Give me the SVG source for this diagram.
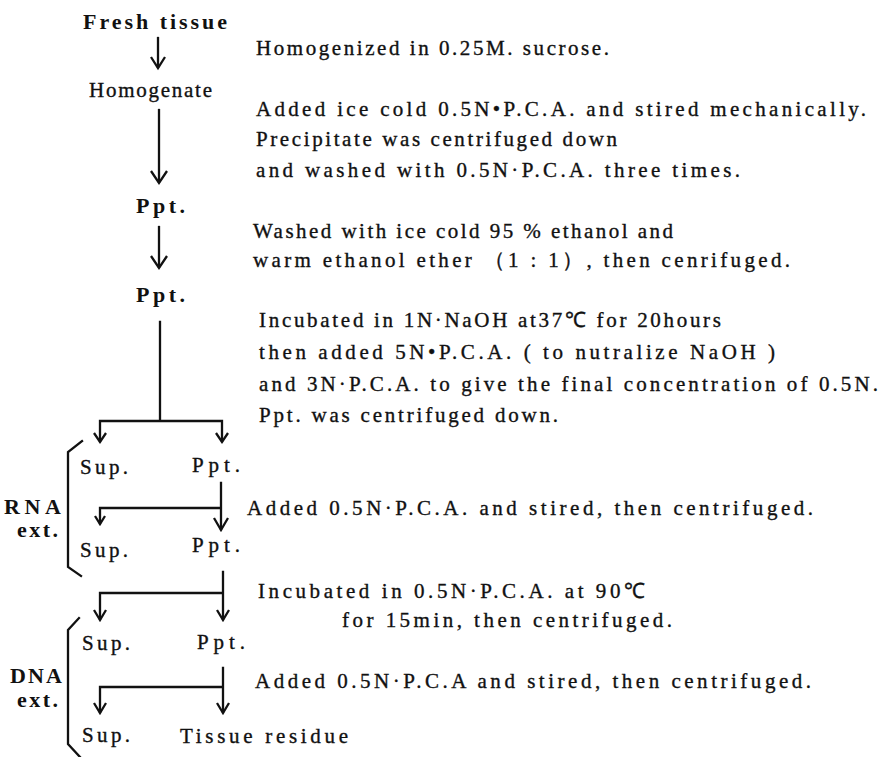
<svg xmlns="http://www.w3.org/2000/svg" width="882" height="757" viewBox="0 0 882 757">
<style>
text{font-family:"Liberation Serif","Times New Roman",serif;font-size:21px;fill:#111;stroke:#111;stroke-width:0.35}
.b{font-weight:bold;font-size:22px;stroke-width:0}
.ln{stroke:#111;stroke-width:2.3;fill:none;stroke-linecap:square}
.hd{stroke:#111;stroke-width:2.3;fill:none;stroke-linejoin:miter}
</style>
<rect width="882" height="757" fill="#fff"/>
<g id="connectors">
<path class="ln" d="M158 38V67"/><path class="hd" d="M151 57L158 68L165 57"/>
<path class="ln" d="M159 110V182"/><path class="hd" d="M151 171L159 183L167 171"/>
<path class="ln" d="M159 227V267"/><path class="hd" d="M151 256L159 268L167 256"/>
<path class="ln" d="M160 322V421M100 421H222M100 421V441M222 421V441"/>
<path class="hd" d="M94 433L100 442L106 433M216 433L222 442L228 433"/>
<path class="ln" d="M221 483V529M100 508H221M100 508V523"/>
<path class="hd" d="M95 516L100 524L105 516M214 518L221 530L228 518"/>
<path class="ln" d="M223 572V619M100 593H223M100 593V619"/>
<path class="hd" d="M94 610L100 620L106 610M217 610L223 620L229 610"/>
<path class="ln" d="M223 668V712M100 687H223M100 687V712"/>
<path class="hd" d="M94 703L100 713L106 703M217 703L223 713L229 703"/>
</g>
<g id="brackets">
<path class="ln" d="M82 441L68 452V567L81 576"/>
<path class="ln" d="M79 618L68 630V744L80 757"/>
</g>
<g id="n-fresh"><text class="b" x="83" y="29" textLength="144" lengthAdjust="spacing">Fresh tissue</text></g>
<g id="n-homogenate"><text x="89" y="97" textLength="123" lengthAdjust="spacing">Homogenate</text></g>
<g id="n-ppt1"><text class="b" x="136" y="213" textLength="49" lengthAdjust="spacing">Ppt.</text></g>
<g id="n-ppt2"><text class="b" x="136" y="302" textLength="49" lengthAdjust="spacing">Ppt.</text></g>
<g id="n-sup1"><text x="80" y="474" textLength="48" lengthAdjust="spacing">Sup.</text></g>
<g id="n-ppt3"><text x="192" y="472" textLength="48" lengthAdjust="spacing">Ppt.</text></g>
<g id="n-sup2"><text x="80" y="557" textLength="48" lengthAdjust="spacing">Sup.</text></g>
<g id="n-ppt4"><text x="192" y="552" textLength="48" lengthAdjust="spacing">Ppt.</text></g>
<g id="n-sup3"><text x="82" y="650" textLength="48" lengthAdjust="spacing">Sup.</text></g>
<g id="n-ppt5"><text x="197" y="649" textLength="48" lengthAdjust="spacing">Ppt.</text></g>
<g id="n-sup4"><text x="82" y="742" textLength="48" lengthAdjust="spacing">Sup.</text></g>
<g id="n-residue"><text x="180" y="743" textLength="168" lengthAdjust="spacing">Tissue residue</text></g>
<g id="lbl-rna"><text class="b" x="4" y="514" textLength="57" lengthAdjust="spacing">RNA</text><text class="b" x="17" y="537" textLength="41" lengthAdjust="spacing">ext.</text></g>
<g id="lbl-dna"><text class="b" x="10" y="683" textLength="52" lengthAdjust="spacing">DNA</text><text class="b" x="17" y="707" textLength="41" lengthAdjust="spacing">ext.</text></g>
<g id="notes">
<text x="256" y="55" textLength="353" lengthAdjust="spacing">Homogenized in 0.25M. sucrose.</text>
<text x="256" y="116" textLength="610" lengthAdjust="spacing">Added ice cold 0.5N•P.C.A. and stired mechanically.</text>
<text x="256" y="146" textLength="361" lengthAdjust="spacing">Precipitate was centrifuged down</text>
<text x="256" y="177" textLength="484" lengthAdjust="spacing">and washed with 0.5N·P.C.A. three times.</text>
<text x="253" y="238" textLength="420" lengthAdjust="spacing">Washed with ice cold 95 % ethanol and</text>
<text x="253" y="267" textLength="537" lengthAdjust="spacing">warm ethanol ether （1 : 1）, then cenrifuged.</text>
<text x="259" y="327" textLength="462" lengthAdjust="spacing">Incubated in 1N·NaOH at37℃ for 20hours</text>
<text x="259" y="359" textLength="516" lengthAdjust="spacing">then added 5N•P.C.A. ( to nutralize NaOH )</text>
<text x="259" y="391" textLength="619" lengthAdjust="spacing">and 3N·P.C.A. to give the final concentration of 0.5N.</text>
<text x="259" y="422" textLength="299" lengthAdjust="spacing">Ppt. was centrifuged down.</text>
<text x="247" y="515" textLength="566" lengthAdjust="spacing">Added 0.5N·P.C.A. and stired, then centrifuged.</text>
<text x="258" y="598" textLength="387" lengthAdjust="spacing">Incubated in 0.5N·P.C.A. at 90℃</text>
<text x="342" y="627" textLength="330" lengthAdjust="spacing">for 15min, then centrifuged.</text>
<text x="255" y="688" textLength="556" lengthAdjust="spacing">Added 0.5N·P.C.A and stired, then centrifuged.</text>
</g>
</svg>
